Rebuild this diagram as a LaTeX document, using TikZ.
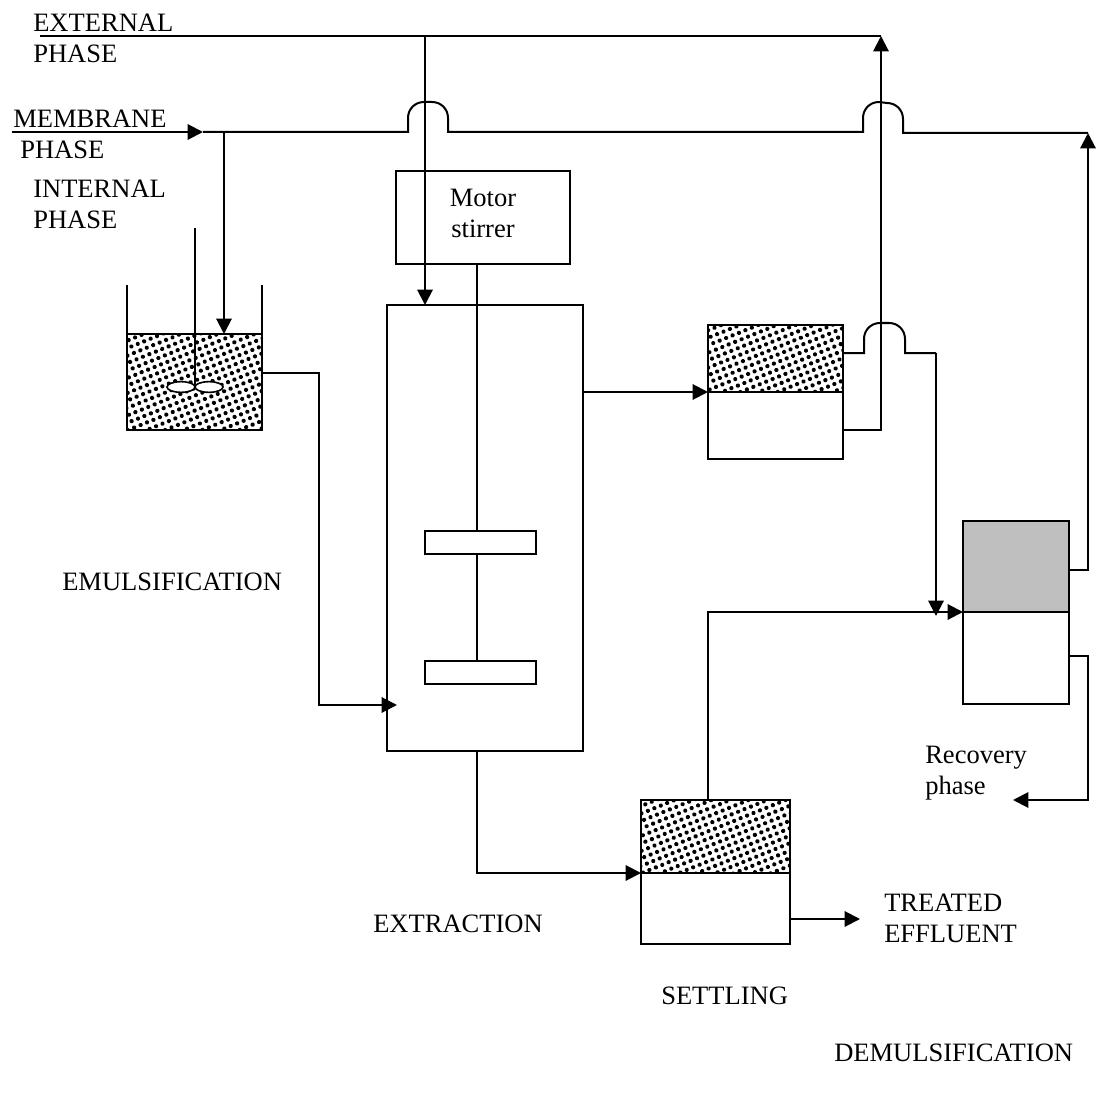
\documentclass[tikz,border=0pt]{standalone}
\usepackage{fontspec}
\setmainfont{Liberation Serif}
\usetikzlibrary{arrows.meta,calc,patterns.meta,shapes.geometric}
\tikzset{
  lbl/.style ={anchor=base west,inner sep=0pt,font=\fontsize{19.9}{23}\selectfont},
  unit/.style ={draw,line width=1.6pt,inner sep=0pt,outer sep=0pt,fill=white},
  foam/.style ={unit,pattern={Dots[distance=5.2pt,angle=22,radius=1.6pt]}},
  grayunit/.style ={unit,fill=black!25},
  leaf/.style ={draw,line width=1.2pt,fill=white,ellipse,minimum width=21pt,minimum height=8pt,inner sep=0pt},
  ln/.style  ={line width=1.5pt},
  ar/.style  ={ln,-{Triangle[length=11.5pt,width=11.5pt]}},
  hop/.style ={to path={-- ++(0,-14) .. controls +(0,-9) and +(-9,0) .. ++(16,-16)
      -- ($(\tikztotarget)+(-16,-30)$) .. controls +(9,0) and +(0,-9) .. ($(\tikztotarget)+(0,-14)$)
      -- (\tikztotarget)}},
}
\newcommand{\boxat}[6]{\node[#1,minimum width=#4*0.75pt,minimum height=#5*0.75pt] (#2) at (#3) {#6};}
\begin{document}
\begin{tikzpicture}[x=0.75pt,y=-0.75pt]
\useasboundingbox (0,0) rectangle (1097,1095);
% labels
\node[lbl] (extA) at (33,32) {EXTERNAL};
\node[lbl] (extB) at (33,63) {PHASE};
\node[lbl] (memA) at (13,128) {MEMBRANE};
\node[lbl] (memB) at (20,159) {PHASE};
\node[lbl] (intA) at (33,198) {INTERNAL};
\node[lbl] (intB) at (33,229) {PHASE};
\node[lbl] (emuls) at (62,590) {EMULSIFICATION};
\node[lbl] (extr) at (373,932) {EXTRACTION};
\node[lbl] (treatA) at (884,911) {TREATED};
\node[lbl] (treatB) at (884,942) {EFFLUENT};
\node[lbl] (settl) at (661,1004) {SETTLING};
\node[lbl] (demul) at (834,1061) {DEMULSIFICATION};
\node[lbl] (recA) at (925,763) {Recovery};
\node[lbl] (recB) at (925,794) {phase};
% units
\boxat{foam}{mixer}{194.5,382}{135}{96}{}
\boxat{unit}{column}{485,528}{196}{446}{}
\boxat{unit}{motor}{483,217.5}{174}{93}{}
\node[lbl,anchor=base] (motA) at (483,207) {Motor};
\node[lbl,anchor=base] (motB) at (483,238) {stirrer};
\boxat{unit}{bladeA}{480.5,542.5}{111}{23}{}
\boxat{unit}{bladeB}{480.5,672.5}{111}{23}{}
\boxat{foam}{washTop}{775.5,358.5}{135}{67}{}
\boxat{unit}{washBot}{775.5,425.5}{135}{67}{}
\boxat{foam}{settleTop}{715.5,836.5}{149}{73}{}
\boxat{unit}{settleBot}{715.5,908.5}{149}{71}{}
\boxat{grayunit}{splitTop}{1016,566.5}{106}{91}{}
\boxat{unit}{splitBot}{1016,658}{106}{92}{}
% free ends and bends
\coordinate (extIn) at (40,36);
\coordinate (extTee) at (425,36);
\coordinate (extEnd) at (881,36);
\coordinate (memIn) at (12,132);
\coordinate (memTip) at (203,132);
\coordinate (memTee) at (224,132);
\coordinate (hopA) at (408,132);
\coordinate (hopB) at (448,132);
\coordinate (hopC) at (863,132);
\coordinate (hopD) at (903,133);
\coordinate (memEnd) at (1088,133);
\coordinate (shaftTop) at (195,228);
\coordinate (hopE) at (864,353);
\coordinate (hopF) at (905,353);
\coordinate (washEnd) at (936,353);
\coordinate (recEnd) at (1013,800);
\coordinate (effEnd) at (860,919);
% impeller
\draw[ln] (shaftTop) -- (195,386);
\node[leaf] (leafL) at (181,387) {};
\node[leaf] (leafR) at (209,387) {};
\draw[ln] (mixer.north west) -- ++(0,-49);
\draw[ln] (mixer.north east) -- ++(0,-49);
% stirrer
\draw[ln] ($(motor.south)+(-6,0)$) -- ($(bladeA.north)+(-3.5,0)$);
\draw[ln] ($(bladeA.south)+(-3.5,0)$) -- ($(bladeB.north)+(-3.5,0)$);
% lines
\draw[ln] (extIn) -- (extEnd);
\draw[ar] (extTee) -- (extTee |- column.north);
\draw[ar] (memIn) -- (memTip);
\draw[ln] (memTip) -- (hopA) to[hop] (hopB) -- (hopC) to[hop] (hopD) -- (memEnd);
\draw[ar] (memTee) -- (memTee |- mixer.north);
\draw[ar] (mixer.east |- 0,373) -- (319,373) |- (397,705);
\draw[ar] (column.east |- washTop.south) -- (washTop.south west);
\draw[ar] (washBot.east |- 0,430) -| (extEnd);
\draw[ln] (washTop.east |- hopE) -- (hopE) to[hop] (hopF) -- (washEnd);
\draw[ar] (washEnd) -- (936,616);
\draw[ar] (column.south -| 477,0) |- (settleTop.south west);
\draw[ar] (708,800) |- (splitTop.south west);
\draw[ar] (settleBot.east |- effEnd) -- (effEnd);
\draw[ar] (splitTop.east |- 0,570) -| (memEnd);
\draw[ar] (splitBot.east |- 0,656) -- (1088,656) |- (recEnd);
\end{tikzpicture}
\end{document}
